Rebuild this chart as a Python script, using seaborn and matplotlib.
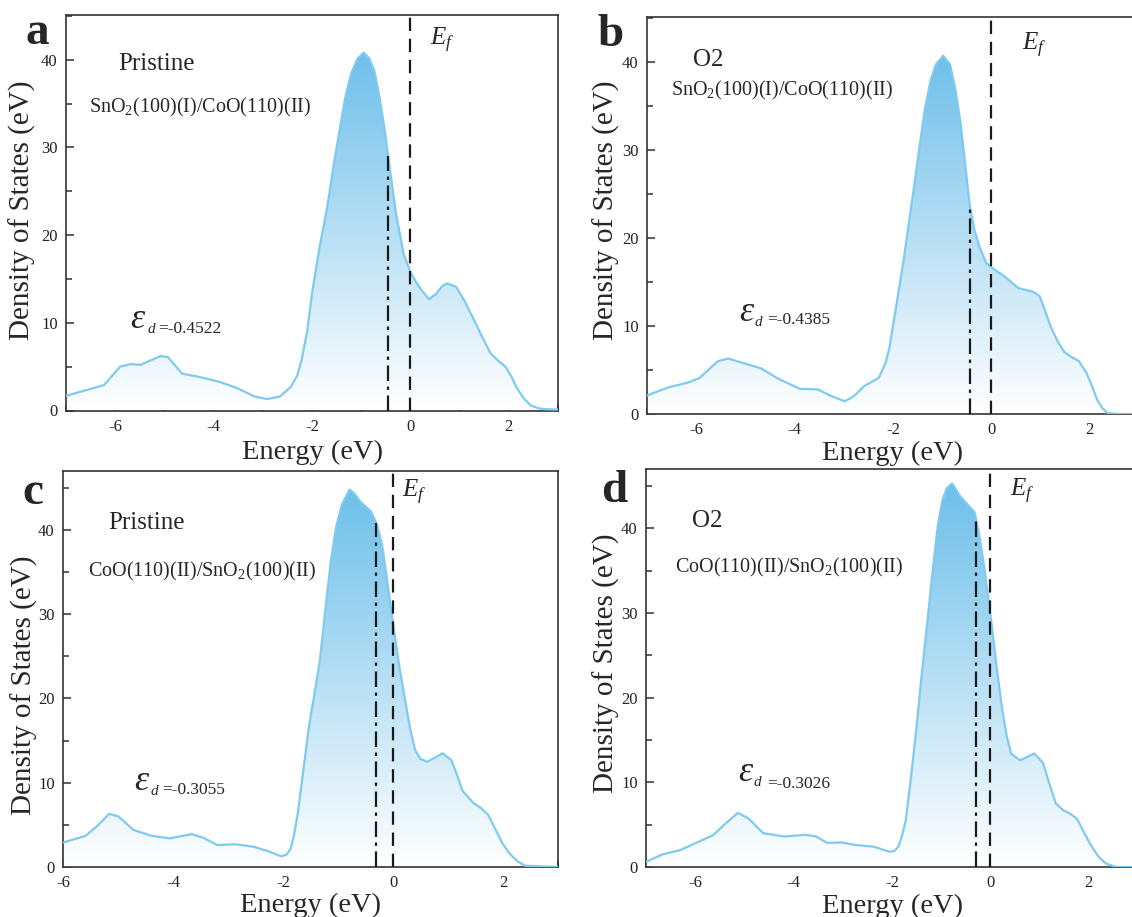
import numpy as np
import matplotlib
matplotlib.use("Agg")
import matplotlib.pyplot as plt
import seaborn as sns
from matplotlib.colors import LinearSegmentedColormap
from matplotlib.patches import PathPatch
from matplotlib.ticker import MultipleLocator

# ---------------- data ----------------
panel_letters = ["a", "b", "c", "d"]
conditions = ["Pristine", "O2", "Pristine", "O2"]
interfaces = ["SnO$_2$(100)(I)/CoO(110)(II)", "SnO$_2$(100)(I)/CoO(110)(II)",
              "CoO(110)(II)/SnO$_2$(100)(II)", "CoO(110)(II)/SnO$_2$(100)(II)"]
eps_d = [-0.4522, -0.4385, -0.3055, -0.3026]
eps_labels = ["=-0.4522", "=-0.4385", "=-0.3055", "=-0.3026"]
x_tick_values = [-6, -4, -2, 0, 2]
y_tick_values = [0, 10, 20, 30, 40]

energy_a = [-7.0, -6.23, -5.9, -5.68, -5.49, -5.08, -4.93, -4.64, -4.35, -3.9, -3.54, -3.17,
            -2.91, -2.65, -2.43, -2.3, -2.21, -2.1, -1.99, -1.85, -1.69, -1.56, -1.43, -1.32,
            -1.21, -1.08, -0.95, -0.84, -0.73, -0.62, -0.51, -0.44, -0.36, -0.29, -0.14, 0.0,
            0.12, 0.23, 0.38, 0.52, 0.65, 0.75, 0.93, 1.1, 1.26, 1.45, 1.63, 1.8, 1.93,
            2.05, 2.15, 2.3, 2.44, 2.6, 2.74, 3.0]
dos_a = [1.67, 2.9, 5.0, 5.3, 5.2, 6.2, 6.1, 4.2, 3.9, 3.3, 2.6, 1.6,
         1.3, 1.6, 2.7, 4.0, 5.8, 9.0, 13.7, 18.5, 23.2, 28.0, 32.3, 35.8,
         38.3, 40.1, 40.8, 40.2, 38.7, 35.5, 31.5, 28.5, 25.2, 22.4, 17.9, 15.8,
         14.6, 13.7, 12.7, 13.3, 14.2, 14.5, 14.1, 12.5, 10.7, 8.5, 6.5, 5.6, 5.0,
         3.9, 2.7, 1.4, 0.6, 0.25, 0.15, 0.1]

energy_b = [-7.0, -6.58, -6.15, -5.93, -5.56, -5.35, -5.05, -4.69, -4.33, -3.89, -3.53, -3.24,
            -2.98, -2.8, -2.58, -2.29, -2.15, -2.07, -2.0, -1.89, -1.78, -1.67, -1.56, -1.45,
            -1.35, -1.24, -1.13, -0.98, -0.84, -0.73, -0.62, -0.53, -0.44, -0.35, -0.25, -0.11,
            0.04, 0.25, 0.55, 0.84, 0.98, 1.1, 1.2, 1.35, 1.49, 1.65, 1.78, 1.93,
            2.05, 2.15, 2.25, 2.36, 2.58, 3.0]
dos_b = [2.1, 3.0, 3.6, 4.1, 6.0, 6.3, 5.8, 5.2, 4.0, 2.85, 2.8, 2.0,
         1.45, 2.0, 3.2, 4.1, 5.8, 7.6, 10.0, 13.8, 17.6, 22.0, 26.3, 30.8,
         34.7, 37.8, 39.7, 40.7, 39.7, 36.8, 32.8, 28.2, 23.7, 21.0, 19.1, 17.2,
         16.5, 15.7, 14.3, 13.9, 13.4, 11.6, 10.0, 8.2, 7.0, 6.4, 6.0, 4.7,
         3.1, 1.6, 0.7, 0.1, 0.0, 0.0]

energy_c = [-6.0, -5.59, -5.39, -5.16, -4.99, -4.72, -4.39, -4.06, -3.66, -3.46, -3.19, -2.86,
            -2.53, -2.26, -2.03, -1.93, -1.86, -1.8, -1.73, -1.63, -1.53, -1.43, -1.33, -1.23,
            -1.13, -1.03, -0.93, -0.79, -0.7, -0.6, -0.4, -0.29, -0.2, -0.13, -0.05, 0.03,
            0.11, 0.2, 0.3, 0.4, 0.5, 0.63, 0.9, 1.06, 1.16, 1.26, 1.46, 1.6, 1.73,
            1.86, 1.99, 2.12, 2.26, 2.4, 3.0]
dos_c = [2.9, 3.7, 4.8, 6.3, 6.0, 4.4, 3.7, 3.4, 3.9, 3.5, 2.6, 2.7,
         2.4, 1.85, 1.26, 1.5, 2.2, 3.8, 6.4, 11.5, 16.6, 20.5, 24.5, 30.5,
         36.3, 40.5, 43.0, 44.8, 44.3, 43.4, 42.2, 40.6, 38.3, 35.1, 31.3, 27.6,
         24.0, 20.6, 16.8, 13.9, 12.8, 12.5, 13.5, 12.7, 11.0, 9.1, 7.6, 7.0, 6.2,
         4.5, 2.8, 1.6, 0.7, 0.15, 0.0]

energy_d = [-7.0, -6.66, -6.3, -6.0, -5.64, -5.35, -5.13, -4.91, -4.62, -4.19, -3.75, -3.54,
            -3.32, -3.03, -2.74, -2.37, -2.05, -1.95, -1.87, -1.8, -1.72, -1.61, -1.5, -1.4,
            -1.29, -1.18, -1.07, -0.98, -0.89, -0.78, -0.7, -0.63, -0.45, -0.32, -0.22, -0.12,
            -0.05, 0.02, 0.13, 0.24, 0.33, 0.42, 0.6, 0.89, 1.07, 1.2, 1.33, 1.48, 1.62,
            1.76, 1.9, 2.06, 2.2, 2.35, 2.56, 3.0]
dos_d = [0.6, 1.5, 2.0, 2.8, 3.75, 5.3, 6.4, 5.7, 4.0, 3.6, 3.8, 3.6,
         2.85, 2.9, 2.6, 2.4, 1.8, 1.9, 2.4, 3.6, 5.5, 10.8, 16.6, 22.5,
         28.5, 34.6, 40.3, 43.2, 44.7, 45.3, 44.6, 43.9, 42.7, 41.9, 39.0, 35.2,
         32.0, 28.9, 23.5, 18.6, 15.5, 13.4, 12.6, 13.4, 12.3, 9.8, 7.5, 6.7, 6.3,
         5.7, 4.1, 2.4, 1.2, 0.4, 0.0, 0.0]

energies = [energy_a, energy_b, energy_c, energy_d]
dos_all = [dos_a, dos_b, dos_c, dos_d]

# ---------------- style ----------------
sns.set_theme(style="ticks")
plt.rcParams["font.family"] = ["Liberation Serif", "DejaVu Serif"]
plt.rcParams["mathtext.fontset"] = "custom"
plt.rcParams["mathtext.rm"] = "Liberation Serif"
plt.rcParams["mathtext.it"] = "Liberation Serif:italic"
plt.rcParams["axes.unicode_minus"] = False

LINE = "#80caf0"
FILL_TOP = "#6dbfea"
W, H = 1132, 917

fig = plt.figure(figsize=(W / 100, H / 100), dpi=100)

# axes rectangles in pixels (left, top, right, bottom)
rects = [(66, 15, 558, 410.5), (647, 17, 1139, 414), (63, 471, 558, 867), (646, 469, 1138, 867)]
xlims = [(-7, 3), (-7, 3), (-6, 3), (-7, 3)]
ylims = [(0, 45.1), (0, 45.1), (0, 47), (0, 47)]
# text layouts (data coords)
cond_pos = [(-5.93, 39.5), (-6.07, 40.2), (-5.17, 40.8), (-6.06, 40.9)]
intf_pos = [(-6.54, 34.5), (-6.51, 36.8), (-5.54, 35.1), (-6.42, 35.4)]
eps_pos = [(-5.7, 9.4), (-5.12, 10.6), (-4.71, 9.1), (-5.12, 10.1)]
sub_pos = [(-5.35, 8.8), (-4.82, 10.0), (-4.41, 8.6), (-4.82, 9.6)]
val_pos = [(-5.13, 8.8), (-4.56, 10.2), (-4.19, 8.7), (-4.54, 9.3)]
ef_pos = [(0.4, 42.2), (0.63, 41.9), (0.17, 44.4), (0.4, 44.3)]
letter_px = [(37, 33), (611, 35), (33, 493), (614, 491)]
ylabel_px = [(22, 210), (606, 210), (24, 685), (606, 663)]
xlabel_py = [452, 453, 905, 906]


def gradient_fill(ax, x, y):
    x = np.asarray(x, float)
    y = np.asarray(y, float)
    poly = ax.fill_between(x, 0, y, facecolor="none", edgecolor="none")
    path = poly.get_paths()[0]
    clip = PathPatch(path, transform=ax.transData, facecolor="none", edgecolor="none")
    ax.add_patch(clip)
    cmap = LinearSegmentedColormap.from_list("g", ["#ffffff", FILL_TOP])
    grad = np.linspace(0, 1, 256).reshape(-1, 1)
    im = ax.imshow(grad, extent=[x.min(), x.max(), 0, y.max()], origin="lower",
                   aspect="auto", cmap=cmap, zorder=1, interpolation="bilinear")
    im.set_clip_path(clip)


for i in range(4):
    l, t, r, b = rects[i]
    ax = fig.add_axes([l / W, 1 - b / H, (r - l) / W, (b - t) / H])
    E = np.asarray(energies[i])
    D = np.asarray(dos_all[i])

    gradient_fill(ax, E, D)
    sns.lineplot(x=E, y=D, ax=ax, color=LINE, linewidth=1.6, zorder=3)

    ax.axvline(0, color="#1a1a1a", lw=1.6, linestyle=(0, (6, 3.5)), zorder=4)
    top = np.interp(eps_d[i], E, D)
    ax.vlines(eps_d[i], 0, top, color="#1a1a1a", lw=1.6,
              linestyle=(0, (7, 2.5, 1.5, 2.5)), zorder=4)

    ax.set_xlim(*xlims[i])
    ax.set_ylim(*ylims[i])
    ax.set_xticks(x_tick_values)
    ax.set_yticks(y_tick_values)
    ax.xaxis.set_minor_locator(MultipleLocator(1))
    ax.yaxis.set_minor_locator(MultipleLocator(5))
    ax.tick_params(which="both", direction="in", top=False, right=False,
                   width=1.1, color="#333333", labelsize=12, labelcolor="#222222")
    ax.tick_params(which="major", length=6)
    ax.tick_params(which="minor", length=4)
    ax.tick_params(axis="x", pad=6)
    ax.tick_params(axis="y", pad=6)
    for sp in ax.spines.values():
        sp.set_linewidth(1.2)
        sp.set_color("#333333")
        sp.set_visible(True)

    ax.set_xlabel("Energy (eV)", fontsize=20.5)
    ax.set_ylabel("Density of States (eV)", fontsize=21)
    ax.xaxis.label.set_verticalalignment("center")
    ax.yaxis.label.set_verticalalignment("center")
    ax.xaxis.set_label_coords(0.5, (b - xlabel_py[i]) / (b - t))
    ax.yaxis.set_label_coords((ylabel_px[i][0] - l) / (r - l), (b - ylabel_px[i][1]) / (b - t))

    ax.text(*cond_pos[i], conditions[i], fontsize=18, ha="left", va="center", zorder=5)
    ax.text(*intf_pos[i], interfaces[i], fontsize=14.5, ha="left", va="center", zorder=5)
    ax.text(*eps_pos[i], "ε", fontsize=26, fontstyle="italic", ha="left", va="baseline", zorder=5)
    ax.text(*sub_pos[i], "d", fontsize=11, fontstyle="italic", ha="left", va="baseline", zorder=5)
    ax.text(*val_pos[i], eps_labels[i], fontsize=12.5, ha="left", va="baseline", zorder=5)
    ax.text(*ef_pos[i], "$E_f$", fontsize=18, ha="left", va="center", zorder=5)

    fig.text(letter_px[i][0] / W, 1 - letter_px[i][1] / H, panel_letters[i],
             fontsize=34, fontweight="bold", ha="center", va="center")

fig.savefig("out.png", dpi=100)
